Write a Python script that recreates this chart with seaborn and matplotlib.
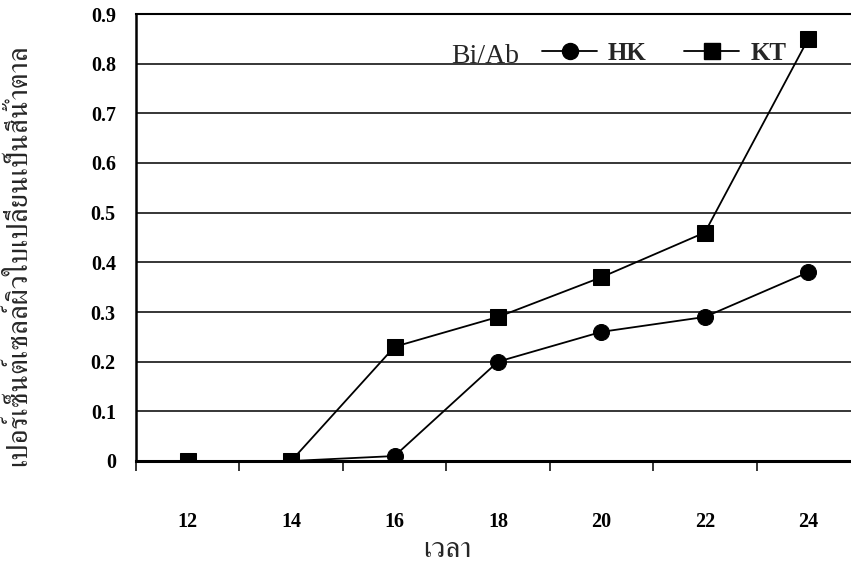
import matplotlib
matplotlib.use("Agg")
import matplotlib.pyplot as plt
import pandas as pd
import seaborn as sns
from matplotlib import font_manager, ft2font
from matplotlib.lines import Line2D
from matplotlib.ticker import FixedLocator, MultipleLocator

# ---------- data ----------
hours = [12, 14, 16, 18, 20, 22, 24]
hk_values = [0.0, 0.0, 0.01, 0.20, 0.26, 0.29, 0.38]
kt_values = [0.0, 0.0, 0.23, 0.29, 0.37, 0.46, 0.85]
series_names = ["HK", "KT"]
series_markers = {"HK": "o", "KT": "s"}
y_ticks = [0.0, 0.1, 0.2, 0.3, 0.4, 0.5, 0.6, 0.7, 0.8, 0.9]
y_tick_labels = ["0", "0.1", "0.2", "0.3", "0.4", "0.5", "0.6", "0.7", "0.8", "0.9"]
y_label = "เปอร์เซ็นต์เซลล์ผิวใบเปลี่ยนเป็นสีน้ำตาล"
x_label = "เวลา"
legend_title = "Bi/Ab"


def find_thai_font() -> str:
    """Return the first installed family that has Thai glyphs."""
    found = []
    for f in font_manager.fontManager.ttflist:
        try:
            cmap = ft2font.FT2Font(f.fname).get_charmap()
        except Exception:
            continue
        if 0x0E40 in cmap and 0x0E25 in cmap and 0x0E49 in cmap:
            found.append(f.name)
    if not found:
        return "DejaVu Sans"
    serif = [n for n in found if "Serif" in n]
    return (serif or found)[0]


df = pd.DataFrame(
    {
        "hour": hours * 2,
        "value": hk_values + kt_values,
        "cultivar": [series_names[0]] * len(hours) + [series_names[1]] * len(hours),
    }
)

sns.set_style("white")
plt.rcParams["font.family"] = ["Liberation Serif", "DejaVu Serif"]
thai_font = find_thai_font()
thai_family = [thai_font, "DejaVu Sans"]

W, H = 851, 570
fig = plt.figure(figsize=(W / 100, H / 100), dpi=100)
# axes runs slightly past the right edge of the picture, as in the original
ax = fig.add_axes([136 / W, 109 / H, 724 / W, 447 / H])

sns.lineplot(
    data=df,
    x="hour",
    y="value",
    hue="cultivar",
    style="cultivar",
    markers=series_markers,
    dashes=False,
    palette=["black", "black"],
    markersize=11.5,
    markeredgecolor="black",
    linewidth=1.3,
    legend=False,
    ax=ax,
)

ax.set_xlim(11, 25)
ax.set_ylim(0, 0.9)
ax.yaxis.set_major_locator(FixedLocator(y_ticks))
ax.set_yticklabels(y_tick_labels)
ax.xaxis.set_major_locator(FixedLocator(hours))
ax.set_xticklabels([str(h) for h in hours])
ax.xaxis.set_minor_locator(MultipleLocator(2, offset=1))

ax.grid(axis="y", color="black", linewidth=1.1)
ax.set_axisbelow(True)
ax.spines["right"].set_visible(False)
ax.spines["top"].set_linewidth(1.5)
ax.spines["left"].set_linewidth(1.8)
ax.spines["bottom"].set_linewidth(2.2)
for s in ("left", "bottom", "top"):
    ax.spines[s].set_color("black")

ax.tick_params(axis="y", which="major", direction="out", length=6.5, width=1.1,
               pad=8, labelsize=14.5, colors="black")
ax.tick_params(axis="x", which="major", length=0, pad=37, labelsize=14.5,
               colors="black")
ax.tick_params(axis="x", which="minor", direction="out", length=7, width=1.1,
               color="black", bottom=True)
for lbl in ax.get_xticklabels() + ax.get_yticklabels():
    lbl.set_fontweight("bold")

ax.set_xlabel("")
ax.set_ylabel("")
fig.text(19 / W, 1 - 255 / H, y_label, rotation=90, ha="center", va="center",
         fontsize=21, family=thai_family)
fig.text(447 / W, 1 - 550 / H, x_label, ha="center", va="center",
         fontsize=21, family=thai_family)

# legend: "Bi/Ab" label followed by the two series
fig.text(451 / W, 1 - 63 / H, legend_title, ha="left", va="baseline", fontsize=20)
handles = [
    Line2D([], [], color="black", lw=1.3, marker=series_markers[n], markersize=11.5)
    for n in series_names
]
fig.legend(
    handles,
    series_names,
    loc="center left",
    bbox_to_anchor=(542 / W, 1 - 53 / H),
    ncol=2,
    frameon=False,
    handlelength=2.2,
    handletextpad=0.44,
    columnspacing=1.5,
    borderpad=0,
    borderaxespad=0,
    prop={"family": "Liberation Serif", "weight": "bold", "size": 18},
)

fig.savefig("out.png", dpi=100)
